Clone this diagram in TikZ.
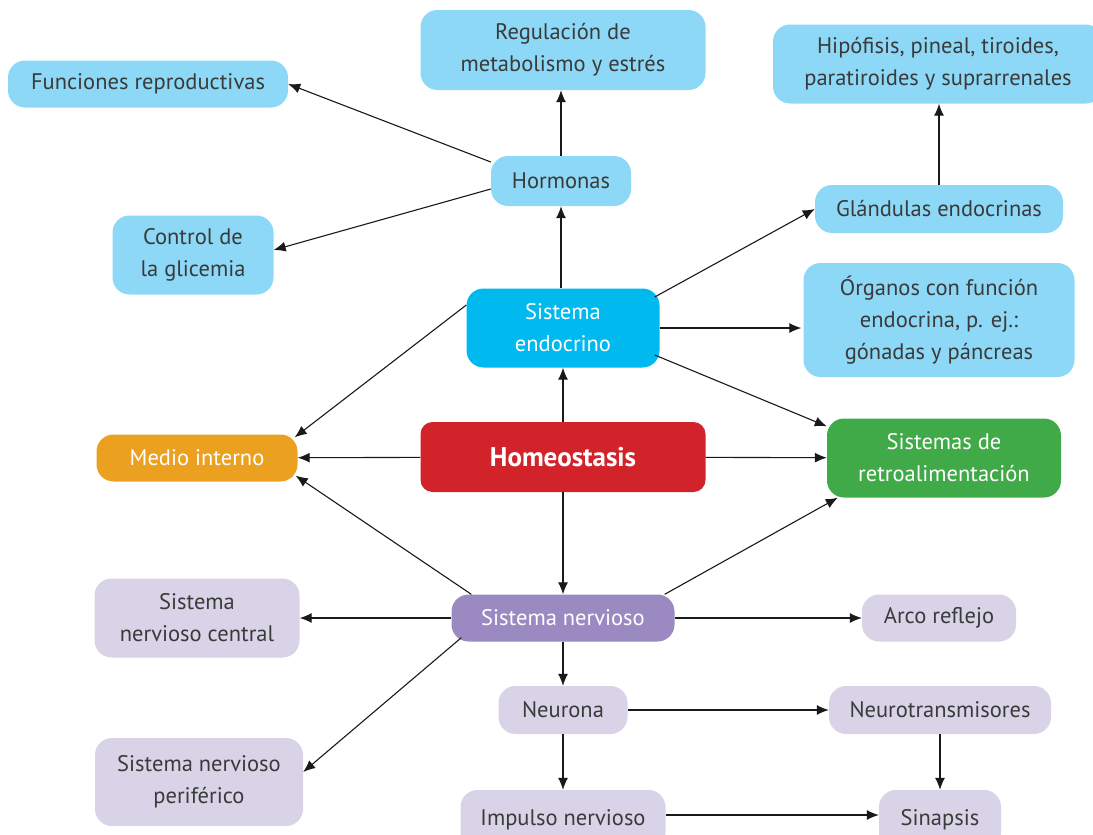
\documentclass[tikz,border=0pt]{standalone}
\usepackage{fontspec}
\setmainfont{PT Sans}
\usetikzlibrary{arrows.meta,calc}
\definecolor{lblue}{HTML}{8DD8F6}
\definecolor{cyanbox}{HTML}{00B9EF}
\definecolor{redbox}{HTML}{D2232A}
\definecolor{orangebox}{HTML}{ECA01F}
\definecolor{greenbox}{HTML}{41AA48}
\definecolor{purplebox}{HTML}{9A8AC1}
\definecolor{lav}{HTML}{D9D3E8}
\definecolor{txt}{HTML}{3A3A3A}
\tikzset{
  box/.style={rounded corners=17pt, inner sep=0pt, align=center, font=\fontsize{22.5}{32}\selectfont, text=txt},
  lb/.style={box, fill=lblue},
  lv/.style={box, fill=lav},
  main/.style={box, text=white},
  arr/.style={draw=black!90, line width=1.1pt, -{Latex[length=12pt,width=10pt]}}
}
\begin{document}
\begin{tikzpicture}[x=1pt,y=-1pt]
\useasboundingbox (0,0) rectangle (1093,835);
% nodes
\node[lb, minimum width=285, minimum height=80] (reg) at (563,50) {Regulación de\\metabolismo y estrés};
\node[lb, minimum width=280, minimum height=47] (fun) at (148,84) {Funciones reproductivas};
\node[lb, minimum width=330, minimum height=79] (hip) at (938,64) {Hipófisis, pineal, tiroides,\\paratiroides y suprarrenales};
\node[lb, minimum width=140, minimum height=50] (hor) at (561,181) {Hormonas};
\node[lb, minimum width=248, minimum height=48] (gla) at (939,209) {Glándulas endocrinas};
\node[lb, minimum width=161, minimum height=79] (con) at (193,255) {Control de\\la glicemia};
\node[main, fill=cyanbox, minimum width=193, minimum height=79] (se) at (563,328) {Sistema\\endocrino};
\node[lb, minimum width=271, minimum height=114] (org) at (939,320) {Órganos con función\\endocrina, p. ej.:\\gónadas y páncreas};
\node[main, fill=orangebox, minimum width=201, minimum height=47] (med) at (197,458) {Medio interno};
\node[main, fill=redbox, rounded corners=12pt, minimum width=285, minimum height=70, font=\fontsize{27}{32}\selectfont\bfseries] (hom) at (563,457) {Homeostasis};
\node[main, fill=greenbox, minimum width=234, minimum height=79] (ret) at (944,458) {Sistemas de\\retroalimentación};
\node[lv, minimum width=205, minimum height=79] (snc) at (197,618) {Sistema\\nervioso central};
\node[main, fill=purplebox, minimum width=223, minimum height=47] (sn) at (563,618) {Sistema nervioso};
\node[lv, minimum width=154, minimum height=47] (arc) at (939,618) {Arco reflejo};
\node[lv, minimum width=129, minimum height=48] (neu) at (563,710) {Neurona};
\node[lv, minimum width=222, minimum height=48] (ntr) at (940,710) {Neurotransmisores};
\node[lv, minimum width=208, minimum height=88] (snp) at (199,782) {Sistema nervioso\\periférico};
\node[lv, minimum width=205, minimum height=60] (imp) at (563,820) {Impulso nervioso};
\node[lv, minimum width=122, minimum height=60] (sin) at (940,820) {Sinapsis};
% connectors
\draw[arr] (hor.north) -- (hor.north |- reg.south);
\draw[arr] ([yshift=19pt]hor.west) -- (fun.east);
\draw[arr] ([yshift=-8pt]hor.west) -- ([yshift=5pt]con.east);
\draw[arr] (se.north -| hor.north) -- (hor.south);
\draw[arr] ([xshift=-5pt,yshift=31pt]se.east) -- (gla.west);
\draw[arr] (gla.north) -- (gla.north |- hip.south);
\draw[arr] (se.east) -- ([xshift=-2pt]se.east -| org.west);
\draw[arr] ([xshift=-5pt,yshift=-27pt]se.east) -- ([yshift=-8pt]ret.north west);
\draw[arr] ([yshift=23pt]se.west) -- ([xshift=-3pt,yshift=-3pt]med.north east);
\draw[arr] (hom) -- (se);
\draw[arr] (hom) -- (med);
\draw[arr] (hom) -- (ret);
\draw[arr] (hom) -- (sn);
\draw[arr] ([xshift=20pt]sn.north west) -- ([xshift=-2pt,yshift=6pt]med.south east);
\draw[arr] ([xshift=-10pt]sn.north east) -- ([xshift=11pt]ret.south west);
\draw[arr] (sn) -- (snc);
\draw[arr] (sn) -- (arc);
\draw[arr] ([xshift=10pt,yshift=4pt]sn.south west) -- ([yshift=10pt]snp.east);
\draw[arr] (sn) -- (neu);
\draw[arr] (neu) -- (ntr);
\draw[arr] (neu) -- (imp);
\draw[arr] (ntr) -- (sin);
\draw[arr] (imp.east |- 0,815) -- (sin.west |- 0,815);
\end{tikzpicture}
\end{document}
